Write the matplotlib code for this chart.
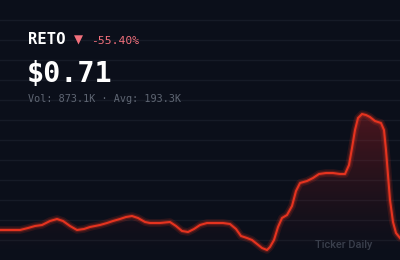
import matplotlib.pyplot as plt
import numpy as np
from matplotlib.path import Path
from matplotlib.patches import PathPatch

# price curve (x position, height above bottom edge)
xs = [0, 10, 20, 28, 35, 42, 50, 57, 63, 70, 77, 84, 90, 100, 107, 113, 120, 126,
      132, 138, 145, 150, 160, 170, 176, 182, 188, 194, 200, 207, 215, 223, 230,
      236, 241, 247, 252, 257, 262, 267, 270, 274, 278, 282, 287, 292, 296, 300,
      307, 313, 319, 326, 333, 340, 345, 349, 352, 355, 358, 362, 366, 370, 375,
      381, 384, 386, 388, 390, 393, 396, 400]
ys_px = [230, 230, 230, 228, 226, 225, 221, 219, 221, 226, 230, 229, 227, 225, 223,
         221, 219, 217, 216, 218, 222, 223, 223, 222, 226, 231, 232, 229, 225, 223,
         223, 223, 224, 229, 236, 238, 240, 244, 248, 250, 247, 240, 227, 218, 215,
         206, 191, 183, 181, 178, 174, 173, 173, 174, 174, 165, 148, 130, 118, 114,
         115, 117, 121, 123, 130, 150, 175, 200, 222, 233, 238]
vals = [260 - y for y in ys_px]

ticker = "RETO"
change = "-55.40%"
price = "$0.71"
volume = "Vol: 873.1K \u00b7 Avg: 193.3K"
brand = "Ticker Daily"

bg = "#0b0f1a"
red = "#e5331f"
pink = "#f2707c"

fig = plt.figure(figsize=(4, 2.6), dpi=100, facecolor=bg)
ax = fig.add_axes([0, 0, 1, 1])
ax.set_facecolor(bg)
ax.axis("off")

# horizontal grid
for g in range(20, 260, 20):
    ax.axhline(g, color="#161b27", lw=1.0, zorder=1)

# gradient fill under the line
verts = [(0, 0)] + list(zip(xs, vals)) + [(400, 0)]
clip = PathPatch(Path(verts), facecolor="none", edgecolor="none")
ax.add_patch(clip)
top = max(vals)
grad = np.linspace(0, 1, 256)
rgba = np.zeros((256, 1, 4))
rgba[:, 0, 0] = 0.86
rgba[:, 0, 1] = 0.15
rgba[:, 0, 2] = 0.15
rgba[:, 0, 3] = 0.3 * grad ** 1.4
img = ax.imshow(rgba, extent=[0, 400, 0, top], origin="lower", aspect="auto", zorder=2)
img.set_clip_path(clip)
ax.set_xlim(0, 400)
ax.set_ylim(0, 260)

# glow + line
ax.plot(xs, vals, color=red, lw=5.5, alpha=0.15, solid_capstyle="round", solid_joinstyle="round", zorder=3)
ax.plot(xs, vals, color=red, lw=3.2, alpha=0.25, solid_capstyle="round", solid_joinstyle="round", zorder=3)
ax.plot(xs, vals, color=red, lw=1.5, solid_joinstyle="round", zorder=4)

def px(x, y):
    return x / 400, 1 - y / 260

mono = "DejaVu Sans Mono"
fig.text(*px(28, 44), ticker, family=mono, weight="bold", fontsize=11.2, color="white", va="baseline")
fig.text(*px(74, 44), "\u25bc", family="DejaVu Sans", fontsize=8.5, color=pink, va="baseline")
fig.text(*px(91, 44), change, family=mono, fontsize=8.2, color=pink, va="baseline")
fig.text(*px(27, 82.5), price, family=mono, weight="bold", fontsize=20.5, color="white", va="baseline")
fig.text(*px(28, 102), volume, family=mono, fontsize=7.3, color="#5f6673", va="baseline")
fig.text(*px(315, 248), brand, family="Roboto", weight="medium", fontsize=7.9, color="#3a3f4c", va="baseline")

fig.savefig("out.png", dpi=100, facecolor=bg)
